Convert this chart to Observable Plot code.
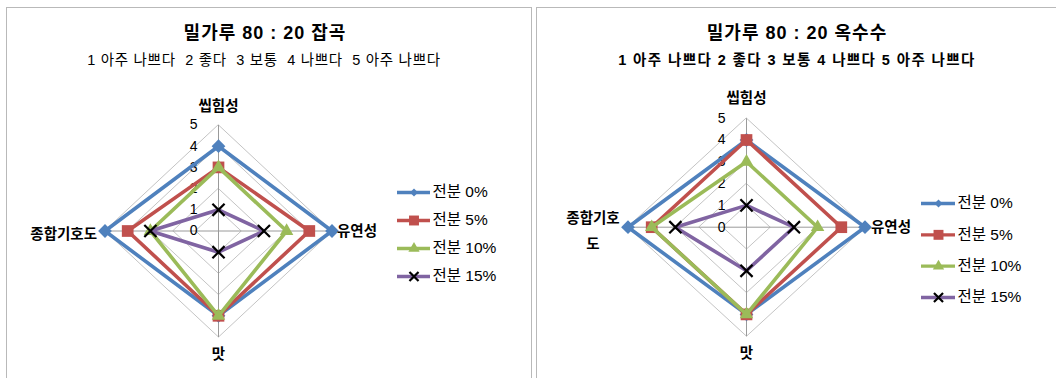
<!DOCTYPE html>
<html><head><meta charset="utf-8">
<script src="https://cdn.jsdelivr.net/npm/d3@7"></script>
<script src="https://cdn.jsdelivr.net/npm/@observablehq/plot@0.6"></script>
<style>
body{margin:0;background:#fff;}
#root{position:relative;width:1056px;height:378px;overflow:hidden;font-family:"Liberation Sans","Noto Sans CJK KR",sans-serif;color:#000;}
.panel{position:absolute;border:1px solid #b9b9b9;box-sizing:border-box;}
.txt{position:absolute;text-align:center;white-space:pre;}
</style></head>
<body><div id="root"></div>
<script>
// ---- data ----
const axes = ["씹힘성", "유연성", "맛", "종합기호도"];
const cornAxisLabels = ["씹힘성", "유연성", "맛", "종합기호\n도"];
const series = ["전분 0%", "전분 5%", "전분 10%", "전분 15%"];
const ticks = [0, 1, 2, 3, 4, 5];
const grainTitle = "밀가루 80 : 20 잡곡";
const cornTitle = "밀가루 80 : 20 옥수수";
const grainNote = "1 아주 나쁘다  2 좋다  3 보통  4 나쁘다  5 아주 나쁘다";
const cornNote = "1 아주 나쁘다 2 좋다 3 보통 4 나쁘다 5 아주 나쁘다";
// values in axis order: 씹힘성, 유연성, 맛, 종합기호도
const grain0 = [4, 5, 4, 5];
const grain5 = [3, 4, 4, 4];
const grain10 = [3, 3, 4, 3];
const grain15 = [1, 2, 1, 3];
const corn0 = [4, 5, 4, 5];
const corn5 = [4, 4, 4, 4];
const corn10 = [3, 3, 4, 4];
const corn15 = [1, 2, 2, 3];

// ---- styles ----
const colors = ["#4F81BD", "#C0504D", "#9BBB59", "#8064A2"];
const symbols = ["diamond2", "square", "triangle", "times"];
const markR = [6.2, 6.6, 5.0, 5.6];
const legendR = [3.6, 5.6, 4.2, 4.2];
const FONT = '"Liberation Sans","Noto Sans CJK KR",sans-serif';

const root = document.getElementById("root");
function addDiv(cls, css, text) {
  const d = document.createElement("div");
  d.className = cls; d.style.cssText = css; if (text != null) d.textContent = text;
  root.appendChild(d); return d;
}

const ang = i => i * Math.PI / 2;
const px = (v, i) => v * Math.sin(ang(i));
const py = (v, i) => v * Math.cos(ang(i));

function radar(cfg) {
  const maxV = d3.max(ticks);
  const ringData = ticks.filter(t => t > 0).flatMap(t => axes.map((a, i) => ({t, x: px(t, i), y: py(t, i)})));
  const marks = [];
  marks.push(Plot.line(ringData, {x: "x", y: "y", z: "t", curve: "linear-closed", stroke: "#c4c4c4", strokeWidth: 1}));
  marks.push(Plot.link(axes, {x1: () => 0, y1: () => 0, x2: (d, i) => px(maxV, i), y2: (d, i) => py(maxV, i), stroke: "#9a9a9a", strokeWidth: 1}));
  marks.push(Plot.text(ticks, {x: () => 0, y: d => d, text: d => String(d), textAnchor: "end", dx: cfg.tickDx, fontSize: 14, fill: "#000"}));
  cfg.values.forEach((vals, s) => {
    const pts = vals.map((v, i) => ({x: px(v, i), y: py(v, i)}));
    marks.push(Plot.line(pts, {x: "x", y: "y", curve: "linear-closed", stroke: colors[s], strokeWidth: 3.6, strokeLinejoin: "miter"}));
    if (symbols[s] === "times") {
      marks.push(Plot.dot(pts, {x: "x", y: "y", symbol: symbols[s], r: markR[s], stroke: "#000", strokeWidth: 2.2, fill: "none"}));
    } else {
      marks.push(Plot.dot(pts, {x: "x", y: "y", symbol: symbols[s], r: markR[s], fill: colors[s], stroke: "none"}));
    }
  });
  const lab = cfg.labels;
  const item = i => [lab[i]];
  const common = {text: d => d, fontSize: 14.5, fontWeight: 600};
  marks.push(Plot.text(item(0), {...common, x: () => px(maxV, 0), y: () => py(maxV, 0), dy: cfg.topDy, textAnchor: "middle"}));
  marks.push(Plot.text(item(1), {...common, x: () => px(maxV, 1), y: () => py(maxV, 1), dx: cfg.rightDx, textAnchor: "start"}));
  marks.push(Plot.text(item(2), {...common, x: () => px(maxV, 2), y: () => py(maxV, 2), dy: cfg.bottomDy, textAnchor: "middle"}));
  marks.push(Plot.text(item(3), {...common, x: () => px(maxV, 3), y: () => py(maxV, 3), dx: cfg.leftDx, textAnchor: cfg.leftAnchor, lineHeight: 1.8}));
  const chart = Plot.plot({
    width: cfg.w, height: cfg.h, margin: 0,
    x: {axis: null, domain: [-maxV, maxV], range: [cfg.cx - maxV * cfg.ux, cfg.cx + maxV * cfg.ux]},
    y: {axis: null, domain: [-maxV, maxV], range: [cfg.cy + maxV * cfg.uy, cfg.cy - maxV * cfg.uy]},
    style: {background: "transparent", overflow: "visible", fontFamily: FONT, maxWidth: "none"},
    marks
  });
  chart.style.position = "absolute";
  chart.style.left = cfg.left + "px";
  chart.style.top = cfg.top + "px";
  root.appendChild(chart);
}

function legend(cfg) {
  const rows = series.map((name, i) => ({name, i}));
  const marks = [];
  rows.forEach((r, s) => {
    marks.push(Plot.ruleY([r], {y: "i", x1: () => 0, x2: () => 1, stroke: colors[s], strokeWidth: 3.4}));
    if (symbols[s] === "times") {
      marks.push(Plot.dot([r], {x: () => 0.5, y: "i", symbol: symbols[s], r: legendR[s], stroke: "#000", strokeWidth: 2.2}));
    } else {
      marks.push(Plot.dot([r], {x: () => 0.5, y: "i", symbol: symbols[s], r: legendR[s], fill: colors[s], stroke: "none"}));
    }
  });
  marks.push(Plot.text(rows, {x: () => 1, y: "i", text: "name", textAnchor: "start", dx: 2, fontSize: 15.5, fill: "#000"}));
  const chart = Plot.plot({
    width: cfg.w, height: cfg.h, margin: 0,
    x: {axis: null, domain: [0, 1], range: [cfg.x0, cfg.x1]},
    y: {axis: null, domain: [0, series.length - 1], range: [cfg.y0, cfg.y1]},
    style: {background: "transparent", overflow: "visible", fontFamily: FONT, maxWidth: "none"},
    marks
  });
  chart.style.position = "absolute";
  chart.style.left = cfg.left + "px";
  chart.style.top = cfg.top + "px";
  root.appendChild(chart);
}

// panels
addDiv("panel", "left:6px;top:7px;width:526px;height:420px;");
addDiv("panel", "left:536px;top:7px;width:560px;height:420px;");

// titles
addDiv("txt", "left:65px;width:400px;top:22px;font-size:18px;font-weight:bold;letter-spacing:1px;line-height:22px;", grainTitle);
addDiv("txt", "left:64px;width:400px;top:50px;font-size:14.5px;letter-spacing:0.7px;line-height:20px;", grainNote);
addDiv("txt", "left:597px;width:400px;top:22px;font-size:18px;font-weight:bold;letter-spacing:1px;line-height:22px;", cornTitle);
addDiv("txt", "left:597px;width:400px;top:50px;font-size:14.5px;font-weight:bold;letter-spacing:1.4px;line-height:20px;", cornNote);

radar({values: [grain0, grain5, grain10, grain15], labels: axes,
  left: 0, top: 70, w: 530, h: 300, cx: 218, cy: 160.5, ux: 22.7, uy: 21.2,
  tickDx: -21, topDy: -19, rightDx: 5, bottomDy: 17, leftDx: -8, leftAnchor: "end"});
radar({values: [corn0, corn5, corn10, corn15], labels: cornAxisLabels,
  left: 530, top: 70, w: 526, h: 300, cx: 216, cy: 156.7, ux: 23.7, uy: 21.8,
  tickDx: -21, topDy: -20, rightDx: 6, bottomDy: 17, leftDx: -35, leftAnchor: "middle"});

legend({left: 390, top: 180, w: 130, h: 110, x0: 7, x1: 40, y0: 12, y1: 96});
legend({left: 914, top: 190, w: 140, h: 120, x0: 7, x1: 41, y0: 13, y1: 107});
</script>
</body></html>
